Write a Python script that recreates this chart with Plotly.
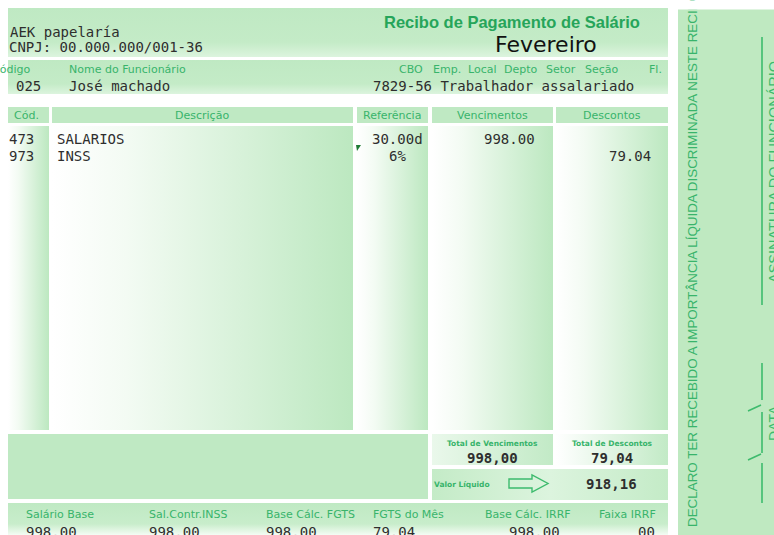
import plotly.graph_objects as go

# ---------------- data (text content of the payslip) ----------------
company_name = "AEK papelaría"
company_cnpj = "CNPJ: 00.000.000/001-36"
doc_title = "Recibo de Pagamento de Salário"
doc_month = "Fevereiro"

employee_labels = ["Código", "Nome do Funcionário", "CBO", "Emp.", "Local",
                   "Depto", "Setor", "Seção", "Fl."]
employee_code = "025"
employee_name = "José machado"
employee_cbo = "7829-56 Trabalhador assalariado"

column_headers = ["Cód.", "Descrição", "Referência", "Vencimentos", "Descontos"]
item_codes = ["473", "973"]
item_descriptions = ["SALARIOS", "INSS"]
item_references = ["30.00d", "6%"]
item_earnings = ["998.00", ""]
item_deductions = ["", "79.04"]

total_labels = ["Total de Vencimentos", "Total de Descontos"]
total_values = ["998,00", "79,04"]
net_label = "Valor Líquido"
net_value = "918,16"

base_labels = ["Salário Base", "Sal.Contr.INSS", "Base Cálc. FGTS",
               "FGTS do Mês", "Base Cálc. IRRF", "Faixa IRRF"]
base_values = ["998.00", "998.00", "998.00", "79.04", "998.00", "00"]

stub_declaration = "DECLARO TER RECEBIDO A IMPORTÂNCIA LÍQUIDA DISCRIMINADA NESTE RECIBO"
stub_signature = "ASSINATURA DO FUNCIONÁRIO"
stub_date = "DATA"

# ---------------- styles / layout ----------------
W, H = 774, 535
GREEN = "#bfe9c3"
LABEL = "#38b46b"
TITLE = "#26a55a"
INK = "#2e2e2e"
MONO = "DejaVu Sans Mono"
SANS = "DejaVu Sans"
ARIAL = "Liberation Sans"
MS = 14  # monospace size

fig = go.Figure()
shapes = []
annotations = []


def solid(x0, y0, x1, y1, color=GREEN):
    shapes.append(dict(type="rect", x0=x0, y0=y0, x1=x1, y1=y1, xref="x", yref="y",
                       fillcolor=color, line=dict(width=0), layer="below"))


def grad(x0, y0, x1, y1, scale, kind="horizontal"):
    fig.add_trace(go.Scatter(
        x=[x0, x1, x1, x0, x0], y=[y0, y0, y1, y1, y0], mode="lines",
        line=dict(width=0), fill="toself",
        fillgradient=dict(type=kind, colorscale=scale),
        hoverinfo="skip", showlegend=False))


def text(s, x, y, size, color=INK, family=MONO, anchor="left", bold=False, angle=0, yanchor="middle"):
    annotations.append(dict(text=f"<b>{s}</b>" if bold else s, x=x, y=y, xref="x", yref="y",
                            xanchor=anchor, yanchor=yanchor, showarrow=False, textangle=angle,
                            borderpad=0,
                            font=dict(family=family, size=size, color=color)))


H_SCALE = [[0, "#ffffff"], [0.25, "#f3fbf3"], [1, "#bce8c0"]]
V_SCALE = [[0, "#dcf4de"], [0.3, "#c4ebc7"], [1, GREEN]]

# header band
grad(8, 8, 668, 57, V_SCALE, "vertical")
# employee band
grad(8, 60, 668, 94, V_SCALE, "vertical")

# column geometry
cols = [(8, 49), (52, 353), (357, 428), (432, 553), (556, 668)]
for (x0, x1) in cols:
    solid(x0, 107, x1, 123)
    grad(x0, 126, x1, 430, H_SCALE)

# lower section
solid(8, 434, 428, 499)
grad(432, 434, 553, 465, [[0, "#eaf8eb"], [1, "#c2eac6"]])
grad(556, 434, 668, 465, [[0, "#ffffff"], [1, "#c2eac6"]])
grad(432, 469, 668, 500, [[0, "#c4ebc7"], [0.5, "#dcf4de"], [1, "#c4ebc7"]])
# bottom band
grad(8, 503, 668, 535, [[0, "#f4fcf4"], [0.35, "#c8edcb"], [1, GREEN]], "vertical")

# receipt stub
solid(678, 8, 774, 535, "#bfe9c1")

# stub lines (signature / date)
line_style = dict(color="#3dbb6d", width=1.6)
for (ya, yb) in [(37, 305), (363, 400), (412, 453), (463, 503)]:
    shapes.append(dict(type="line", x0=762, x1=762, y0=ya, y1=yb, xref="x", yref="y", line=line_style))
for (xa, ya, xb, yb) in [(748, 411, 761, 405), (748, 460, 761, 454)]:
    shapes.append(dict(type="line", x0=xa, x1=xb, y0=ya, y1=yb, xref="x", yref="y", line=line_style))

# net-value arrow (outlined)
shapes.append(dict(type="path", xref="x", yref="y",
                   path="M 509 479 L 532 479 L 532 475 L 548 483.5 L 532 492 L 532 488 L 509 488 Z",
                   line=dict(color="#3dbb6d", width=1.4), fillcolor="rgba(0,0,0,0)"))
# small marker near reference column
shapes.append(dict(type="path", xref="x", yref="y", path="M 356 145 L 361 145 L 357 151 Z",
                   line=dict(width=0), fillcolor="#1f7a35"))

# ---------------- texts ----------------
text(company_name, 9, 32, MS)
text(company_cnpj, 8, 47, MS)
text(doc_title, 512, 22, 16.5, TITLE, ARIAL, "center", bold=True)
text(doc_month, 546, 44, 22, "#111111", SANS, "center")

emp_x = [11, 68, 398, 432, 467, 503, 545, 584, 648]
emp_anchor = ["center"] + ["left"] * 8
for lab, x, a in zip(employee_labels, emp_x, emp_anchor):
    text(lab, x, 69, 11, LABEL, SANS, a)
text(employee_code, 15, 86, MS)
text(employee_name, 68, 86, MS)
text(employee_cbo, 372, 86, MS)

head_x = [13, 202, 392, 492, 612]
head_anchor = ["left", "center", "center", "center", "center"]
for lab, x, a in zip(column_headers, head_x, head_anchor):
    text(lab, x, 115, 11, LABEL, SANS, a)

row_y = [139, 156]
for i, y in enumerate(row_y):
    text(item_codes[i], 8, y, MS)
    text(item_descriptions[i], 56, y, MS)
    text(item_references[i], 397, y, MS, anchor="center")
    if item_earnings[i]:
        text(item_earnings[i], 536, y, MS, anchor="right")
    if item_deductions[i]:
        text(item_deductions[i], 652, y, MS, anchor="right")

for lab, val, x in zip(total_labels, total_values, [492, 612]):
    text(lab, x, 443, 7.5, LABEL, SANS, "center", bold=True)
    text(val, x, 458, MS, INK, MONO, "center", bold=True)
text(net_label, 433, 484, 7.5, LABEL, SANS, "left", bold=True)
text(net_value, 611, 484, MS, INK, MONO, "center", bold=True)

base_x = [25, 148, 265, 372, 484, 598]
base_vx = [25, 148, 265, 372, 508, 637]
for lab, x in zip(base_labels, base_x):
    text(lab, x, 514, 11, LABEL, SANS)
for val, x in zip(base_values, base_vx):
    text(val, x, 532, MS)

# stub texts
text(stub_declaration, 692, 528, 13.4, LABEL, ARIAL, "center", angle=-90, yanchor="bottom")
text(stub_signature, 765, 172, 14.5, "#3dbb6d", ARIAL, "left", angle=-90)
text(stub_date, 765, 423, 14, "#3dbb6d", ARIAL, "left", angle=-90)
# white strip above the stub (clips the vertical text like the original)
annotations.append(dict(text=" ", x=726, y=0, xref="x", yref="y", xanchor="center", yanchor="top",
                        showarrow=False, width=110, height=8, bgcolor="#ffffff", borderpad=0))

fig.update_layout(
    width=W, height=H, margin=dict(l=0, r=0, t=0, b=0),
    paper_bgcolor="#ffffff", plot_bgcolor="#ffffff",
    xaxis=dict(range=[0, W], visible=False, fixedrange=True),
    yaxis=dict(range=[H, 0], visible=False, fixedrange=True),
    shapes=shapes, annotations=annotations, showlegend=False,
)

fig.write_html("out.html", config={"displayModeBar": False, "staticPlot": True},
               post_script="document.body.style.margin='0';")
